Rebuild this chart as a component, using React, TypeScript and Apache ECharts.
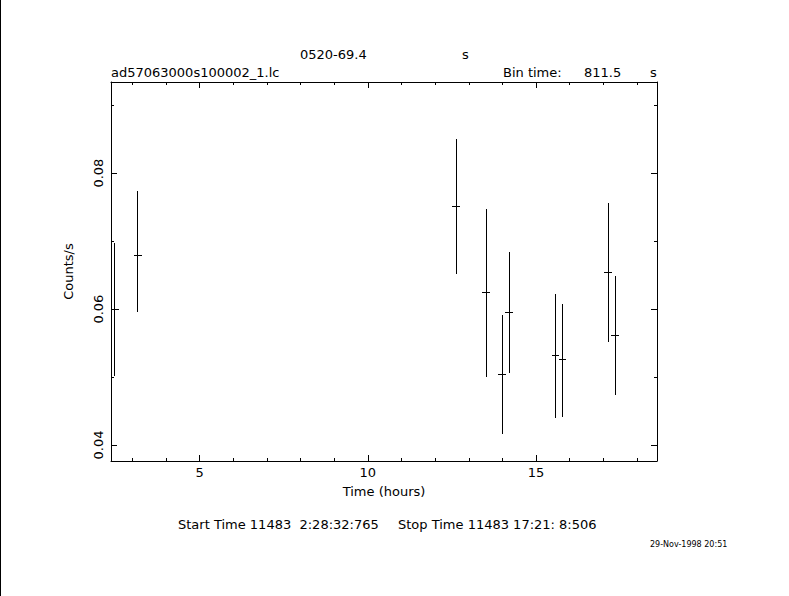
import React, { useEffect, useRef } from "react";
import * as echarts from "echarts";

// Time (hours) of each bin centre
const times = [2.48, 3.165, 12.621, 13.513, 13.989, 14.197, 15.574, 15.782, 17.141, 17.349];
// Count rate (counts/s)
const rates = [0.06, 0.06787, 0.07514, 0.06248, 0.05041, 0.05954, 0.05321, 0.05251, 0.06543, 0.05615];
// Lower / upper error bar ends
const lowers = [0.05016, 0.05954, 0.06522, 0.05006, 0.04166, 0.05064, 0.04402, 0.04417, 0.05521, 0.04741];
const uppers = [0.06979, 0.0774, 0.08505, 0.07475, 0.05914, 0.06842, 0.06223, 0.06076, 0.07563, 0.06488];

const xMajor = [5, 10, 15];
const xMinor = [3, 4, 6, 7, 8, 9, 11, 12, 13, 14, 16, 17, 18];
const yMajor = [0.04, 0.06, 0.08];
const yMinor = [0.05, 0.07, 0.09];

const BIN_TIME_S = 811.5;
const HALF_BIN_H = BIN_TIME_S / 2 / 3600;

const X_MIN = 2.363;
const X_MAX = 18.597;
const Y_MIN = 0.03765;
const Y_MAX = 0.09341;

const FONT = '"DejaVu Sans", sans-serif';

const crisp = (v: number) => Math.round(v - 0.5) + 0.5;

export default function App() {
  const ref = useRef<HTMLDivElement>(null);
  useEffect(() => {
    if (!ref.current) return;
    const chart = echarts.init(ref.current, undefined, { renderer: "svg" });
    const data = times.map((t, i) => [t, rates[i], lowers[i], uppers[i]]);
    const black = "#000";
    const baseX = (position: string, vals: number[], len: number, showLine: boolean, labels: boolean, extra: any = {}) => ({
      type: "value",
      min: X_MIN,
      max: X_MAX,
      position,
      axisLine: { show: showLine, onZero: false, lineStyle: { color: black, width: 1 } },
      axisTick: { show: true, inside: true, length: len, customValues: vals, lineStyle: { color: black, width: 1 } },
      axisLabel: labels
        ? { show: true, customValues: vals, color: black, fontSize: 13, fontFamily: FONT, margin: 5 }
        : { show: false },
      splitLine: { show: false },
      ...extra,
    });
    const baseY = (position: string, vals: number[], len: number, showLine: boolean, labels: boolean, extra: any = {}) => ({
      type: "value",
      min: Y_MIN,
      max: Y_MAX,
      position,
      axisLine: { show: showLine, onZero: false, lineStyle: { color: black, width: 1 } },
      axisTick: { show: true, inside: true, length: len, customValues: vals, lineStyle: { color: black, width: 1 } },
      axisLabel: labels
        ? { show: true, customValues: vals, color: black, fontSize: 13, fontFamily: FONT, rotate: 90, margin: 6, formatter: (v: number) => v.toFixed(2) }
        : { show: false },
      splitLine: { show: false },
      ...extra,
    });
    const txt = (text: string, x: number, y: number, size = 13, align = "left") => ({
      type: "text",
      x,
      y,
      style: { text, fill: black, font: `${size}px ${FONT}`, align, verticalAlign: "middle" },
    });
    chart.setOption({
      animation: false,
      backgroundColor: "#fff",
      textStyle: { fontFamily: FONT },
      grid: { left: 111, right: 132, top: 82, bottom: 135, containLabel: false },
      xAxis: [
        baseX("bottom", xMajor, 6, true, true, {
          name: "Time (hours)",
          nameLocation: "middle",
          nameGap: 24,
          nameTextStyle: { color: black, fontSize: 13, fontFamily: FONT },
        }),
        baseX("bottom", xMinor, 3, false, false),
        baseX("top", xMajor, 6, true, false),
        baseX("top", xMinor, 3, false, false),
      ],
      yAxis: [
        baseY("left", yMajor, 6, true, true, {
          name: "Counts/s",
          nameLocation: "middle",
          nameGap: 36,
          nameRotate: 90,
          nameTextStyle: { color: black, fontSize: 13, fontFamily: FONT },
        }),
        baseY("left", yMinor, 3, false, false),
        baseY("right", yMajor, 6, true, false),
        baseY("right", yMinor, 3, false, false),
      ],
      series: [
        {
          type: "custom",
          xAxisIndex: 0,
          yAxisIndex: 0,
          clip: true,
          data,
          renderItem: (_params: any, api: any) => {
            const x = api.value(0);
            const y = api.value(1);
            const lo = api.value(2);
            const hi = api.value(3);
            const pTop = api.coord([x, hi]);
            const pBot = api.coord([x, lo]);
            const pL = api.coord([x - HALF_BIN_H, y]);
            const pR = api.coord([x + HALF_BIN_H, y]);
            const cx = crisp(pTop[0]);
            const cy = crisp(pL[1]);
            const st = { stroke: black, lineWidth: 1 };
            return {
              type: "group",
              children: [
                { type: "line", shape: { x1: cx, y1: Math.round(pTop[1]), x2: cx, y2: Math.round(pBot[1]) }, style: st },
                { type: "line", shape: { x1: Math.round(pL[0]), y1: cy, x2: Math.round(pR[0]), y2: cy }, style: st },
              ],
            };
          },
        },
      ],
      graphic: [
        { type: "rect", shape: { x: 0, y: 0, width: 1, height: 596 }, style: { fill: black } },
        txt("0520-69.4", 300, 54),
        txt("s", 462, 54),
        txt("ad57063000s100002_1.lc", 111, 72),
        txt("Bin time:", 503, 72),
        txt("811.5", 584, 72),
        txt("s", 650, 72),
        txt("Start Time 11483  2:28:32:765", 178, 524),
        txt("Stop Time 11483 17:21: 8:506", 398, 524),
        txt("29-Nov-1998 20:51", 650, 544, 8),
      ],
    });
    return () => chart.dispose();
  }, []);
  return (
    <div
      ref={ref}
      style={{ position: "fixed", left: 0, top: 0, width: 789, height: 596, background: "#fff" }}
    />
  );
}
